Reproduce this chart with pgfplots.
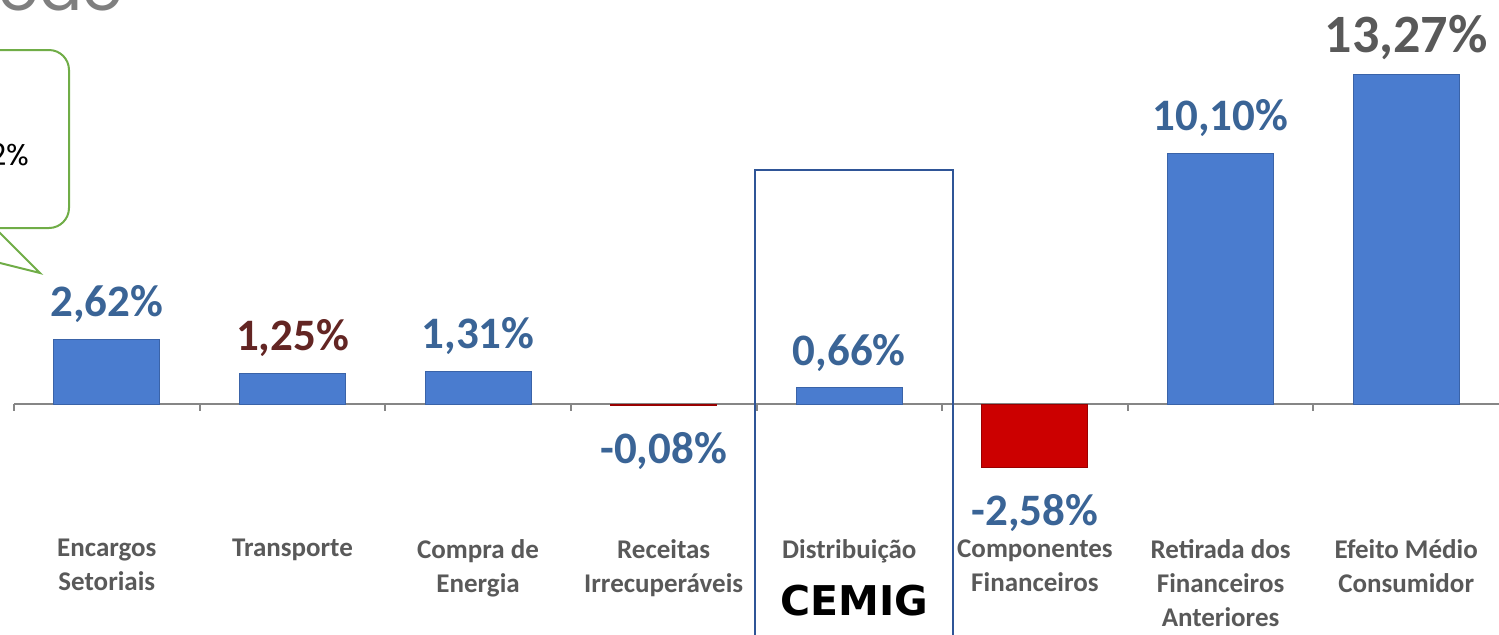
\documentclass[border=0pt]{standalone}
\usepackage{pgfplots}
\pgfplotsset{compat=1.18}
\usepackage{fontspec}
\setmainfont{Carlito}
\newfontfamily\logofont{DejaVu Sans}
\newfontfamily\titlefont{Poppins}
\definecolor{barblue}{HTML}{4A7CCF}
\definecolor{barblueedge}{HTML}{3A63A8}
\definecolor{barred}{HTML}{CC0000}
\definecolor{barrededge}{HTML}{990000}
\definecolor{lblblue}{HTML}{3A6496}
\definecolor{lblbrown}{HTML}{632523}
\definecolor{lblgray}{HTML}{595959}
\definecolor{catgray}{HTML}{595959}
\definecolor{boxblue}{HTML}{2F5597}
\definecolor{callgreen}{HTML}{70AD47}
\definecolor{axisgray}{HTML}{868686}
\definecolor{titlegray}{HTML}{7F7F7F}

\pgfplotsset{
  valbar/.style={ybar, bar width=53pt, bar shift=0pt, fill=barblue, draw=barblueedge, line width=0.5pt,
    point meta=y,
    nodes near coords={\pgfmathprintnumber[fixed,fixed zerofill,precision=2,use comma,assume math mode=true]{\pgfplotspointmeta}\%},
    every node near coord/.append style={font=\bfseries\fontsize{22.5pt}{22.5pt}\selectfont, inner sep=0pt, text=lblblue}},
  pos/.style={every node near coord/.append style={yshift=8pt}},
  neg/.style={fill=barred, draw=barrededge, every node near coord/.append style={yshift=-13pt}},
}

\begin{document}
\begin{tikzpicture}
\useasboundingbox (0,0) rectangle (749.5pt,-317pt);
\clip (0,0) rectangle (749.5pt,-317pt);

% partial title
\node[anchor=base east, inner sep=0pt, text=titlegray, font=\titlefont\fontsize{32pt}{32pt}\selectfont] at (62pt,-5pt) {Período};

% callout
\draw[callgreen, line width=1pt, rounded corners=10pt, fill=white] (-100pt,-25pt) rectangle (34.5pt,-114pt);
\draw[callgreen, line width=1pt, fill=white] (-2.5pt,-114pt) -- (20pt,-136.5pt) -- (-70pt,-114pt);
\node[anchor=base east, inner sep=0pt, font=\titlefont\fontsize{15pt}{15pt}\selectfont] at (15pt,-82.5pt) {2\%};

\begin{axis}[
  at={(7pt,-261.52pt)}, anchor=south west,
  scale only axis, width=742.5pt, height=260.4pt,
  xmin=-0.5, xmax=7.5, ymin=-4.8, ymax=16.2,
  axis line style={draw=none}, major tick length=0pt, ytick=\empty,
  xtick={0,...,7},
  xticklabels={{Encargos\\Setoriais}, Transporte, {Compra de\\Energia}, {Receitas\\Irrecuperáveis}, Distribuição, {Componentes\\Financeiros}, {Retirada dos\\Financeiros\\Anteriores}, {Efeito Médio\\Consumidor}},
  xticklabel style={align=center, font=\bfseries\fontsize{13.5pt}{17pt}\selectfont, text=catgray, anchor=north, inner sep=0pt, yshift=-8pt},
  clip=false,
]
\draw[axisgray, line width=1pt] (axis cs:-0.5,0) -- (axis cs:7.5,0);
\pgfplotsinvokeforeach{-0.5,0.5,1.5,2.5,3.5,4.5,5.5,6.5}{
  \draw[axisgray, line width=1pt] (axis cs:#1,0) -- ([yshift=-3.5pt]axis cs:#1,0);
}
\addplot[valbar, pos] coordinates {(0,2.62)};
\addplot[valbar, pos, every node near coord/.append style={text=lblbrown}] coordinates {(1,1.25)};
\addplot[valbar, pos] coordinates {(2,1.31)};
\addplot[valbar, neg] coordinates {(3,-0.08)};
\addplot[valbar, pos] coordinates {(4,0.66)};
\addplot[valbar, neg] coordinates {(5,-2.58)};
\addplot[valbar, pos] coordinates {(6,10.10)};
\addplot[valbar, every node near coord/.append style={yshift=7.5pt, text=lblgray, font=\bfseries\fontsize{27pt}{27pt}\selectfont}] coordinates {(7,13.27)};
\end{axis}

% highlight box around Distribuicao
\draw[boxblue, line width=1.1pt] (377.5pt,-330pt) -- (377.5pt,-85pt) -- (476.5pt,-85pt) -- (476.5pt,-330pt);
\node[anchor=base, inner sep=0pt, font=\logofont\bfseries\fontsize{20.5pt}{20.5pt}\selectfont] at (427pt,-307.5pt) {CEMIG};
\end{tikzpicture}
\end{document}
